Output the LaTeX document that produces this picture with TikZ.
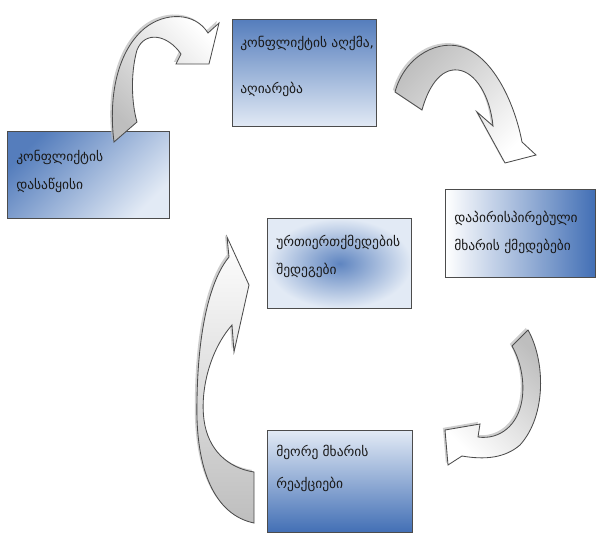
\documentclass[tikz,border=0pt]{standalone}
\usepackage{fontspec}
\newfontfamily\geofont{DejaVu Sans}
\usetikzlibrary{positioning,shadows}
\definecolor{boxblue}{RGB}{66,111,181}
\definecolor{boxlight}{RGB}{226,234,245}
\definecolor{arrowgray}{RGB}{190,190,190}
\begin{document}
\begin{tikzpicture}
[
  x=0.025cm, y=-0.025cm,
  stepbox/.style={rectangle, draw=gray!60!black, line width=0.7pt, anchor=north west, inner sep=0pt},
  steptext/.style={anchor=north west, align=left, inner sep=0pt, text=black!90,
    font=\geofont\fontsize{9.6}{20}\selectfont},
  bandarrow/.style={draw=black!70, line width=0.6pt,
    drop shadow={shadow xshift=-1.5pt, shadow yshift=1.5pt, fill=gray!55, opacity=0.7}}
]
 \useasboundingbox (0,0) rectangle (597,533);

 % boxes
 \node[stepbox, minimum width=3.6cm, minimum height=2.675cm,
   top color=boxblue!90, bottom color=boxlight] (percept) at (232,19) {};
 \node[stepbox, minimum width=4.05cm, minimum height=2.175cm,
   top color=boxblue!90, bottom color=boxlight, shading angle=45] (start) at (7,131) {};
 \node[stepbox, minimum width=3.75cm, minimum height=2.2cm,
   left color=white, right color=boxblue] (action) at (445,189) {};
 \node[stepbox, minimum width=3.6cm, minimum height=2.25cm,
   inner color=boxblue!85, outer color=boxlight] (result) at (267,218) {};
 \node[stepbox, minimum width=3.625cm, minimum height=2.55cm,
   top color=boxlight, bottom color=boxblue] (reaction) at (267,430) {};

 \node[steptext] (percepttext) at ([shift={(8,17)}]percept.north west) {კონფლიქტის აღქმა,\\[13pt]აღიარება};
 \node[steptext] (starttext) at ([shift={(9,19)}]start.north west) {კონფლიქტის\\დასაწყისი};
 \node[steptext] (actiontext) at ([shift={(9,22)}]action.north west) {დაპირისპირებული\\მხარის ქმედებები};
 \node[steptext] (resulttext) at ([shift={(9,17)}]result.north west) {ურთიერთქმედების\\შედეგები};
 \node[steptext] (reactiontext) at ([shift={(9,15)}]reaction.north west) {მეორე მხარის\\[3pt]რეაქციები};

 % curved arrows
 \draw[bandarrow, top color=white, bottom color=arrowgray, shading angle=-45]
   (114,142) .. controls (108,95) and (118,50) .. (145,28)
   .. controls (165,12) and (195,12) .. (208,33) -- (219,23) -- (209,64) -- (176,64) -- (181,54)
   .. controls (168,35) and (145,30) .. (137,50) .. controls (130,75) and (132,105) .. (137,122) -- cycle;
 \draw[bandarrow, top color=arrowgray, bottom color=white, shading angle=45]
   (395,92) .. controls (405,55) and (440,38) .. (465,48)
   .. controls (495,60) and (515,105) .. (522,142) -- (536,155) -- (505,163) -- (477,112) -- (493,126)
   .. controls (490,95) and (475,72) .. (458,70) .. controls (440,68) and (428,88) .. (422,110) -- cycle;
 \draw[bandarrow, top color=arrowgray, bottom color=white, shading angle=-45]
   (512,346) -- (528,330) .. controls (545,360) and (547,415) .. (520,445)
   .. controls (505,458) and (485,460) .. (462,456) -- (448,465) -- (445,430) -- (480,424) -- (478,437)
   .. controls (500,440) and (518,425) .. (522,400) .. controls (525,380) and (520,360) .. (512,346) -- cycle;
 \draw[bandarrow, top color=white, bottom color=arrowgray]
   (254,523) .. controls (215,515) and (195,470) .. (197,400)
   .. controls (198,330) and (210,280) .. (229,257) -- (227,237) -- (249,285) -- (234,352) -- (232,325)
   .. controls (210,350) and (200,390) .. (204,420) .. controls (208,450) and (228,468) .. (254,472) -- cycle;
\end{tikzpicture}
\end{document}
